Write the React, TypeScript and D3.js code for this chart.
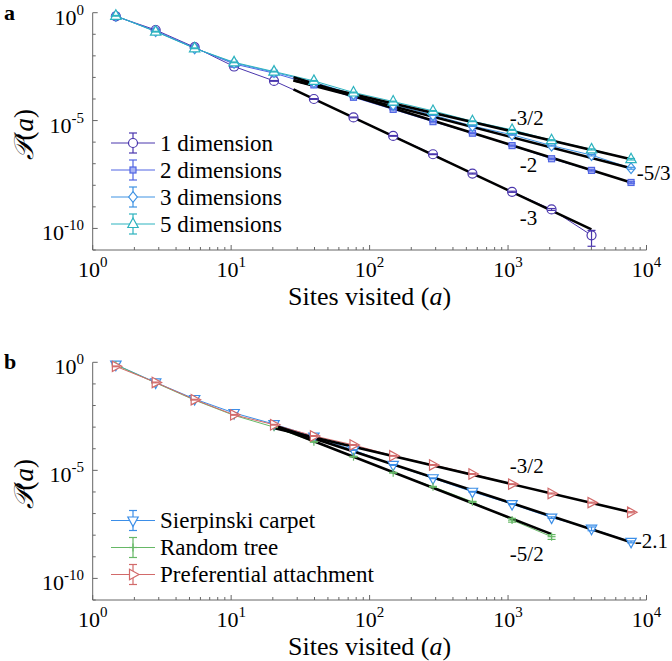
import React from "react";
import * as d3 from "d3";

// ---------- data ----------
const sites = [1.47, 2.85, 5.45, 10.5, 20.4, 39.6, 76.5, 148, 287, 553, 1069, 2062, 4008, 7734];

const dim1 = [0.68, 0.158, 0.0251, 3.2e-3, 6.9e-4, 1.0e-4, 1.4e-5, 1.95e-6, 2.75e-7, 3.5e-8, 5.0e-9, 7.6e-10, 4.8e-11];
const dim2 = [0.69, 0.141, 0.0234, 4.2e-3, 1.58e-3, 4.5e-4, 1.2e-4, 3.3e-5, 8.9e-6, 2.6e-6, 6.9e-7, 1.7e-7, 4.9e-8, 1.35e-8];
const dim3 = [0.71, 0.138, 0.0224, 4.7e-3, 1.74e-3, 6.0e-4, 1.66e-4, 5.4e-5, 1.8e-5, 5.6e-6, 2.2e-6, 6.9e-7, 2.5e-7, 6.2e-8];
const dim5 = [0.72, 0.132, 0.0224, 5.0e-3, 1.86e-3, 6.9e-4, 2.0e-4, 7.6e-5, 2.8e-5, 9.3e-6, 3.7e-6, 1.23e-6, 4.6e-7, 1.62e-7];
const dim1Err = [0.04, 0.04, 0.04, 0.04, 0.04, 0.04, 0.04, 0.04, 0.04, 0.05, 0.06, 0.1, 0.69];
const dim2Err = [0.04, 0.04, 0.04, 0.04, 0.04, 0.04, 0.04, 0.04, 0.04, 0.04, 0.05, 0.05, 0.06, 0.08];
const dim3Err = [0.04, 0.04, 0.04, 0.04, 0.04, 0.04, 0.04, 0.04, 0.04, 0.04, 0.05, 0.05, 0.08, 0.1];
const dim5Err = [0.04, 0.04, 0.04, 0.04, 0.04, 0.04, 0.04, 0.04, 0.04, 0.04, 0.05, 0.05, 0.06, 0.08];

const sierpinski = [0.78, 0.117, 0.020, 4.5e-3, 1.38e-3, 3.6e-4, 8.7e-5, 1.78e-5, 4.3e-6, 1.02e-6, 2.75e-7, 6.5e-8, 2.0e-8, 4.9e-9];
const randomTree = [0.76, 0.112, 0.0178, 3.5e-3, 1.0e-3, 2.1e-4, 4.3e-5, 7.8e-6, 1.74e-6, 3.5e-7, 5.0e-8, 8.5e-9];
const prefAttach = [0.65, 0.117, 0.0186, 3.7e-3, 1.29e-3, 3.9e-4, 1.5e-4, 4.7e-5, 1.78e-5, 6.8e-6, 2.3e-6, 8.5e-7, 3.2e-7, 1.15e-7];
const sierpinskiErr = [0.04, 0.04, 0.04, 0.04, 0.04, 0.04, 0.04, 0.04, 0.04, 0.04, 0.05, 0.08, 0.2, 0.1];
const randomTreeErr = [0.04, 0.04, 0.04, 0.04, 0.04, 0.04, 0.04, 0.04, 0.04, 0.05, 0.2, 0.25];
const prefAttachErr = [0.04, 0.04, 0.04, 0.04, 0.04, 0.04, 0.04, 0.04, 0.04, 0.04, 0.04, 0.05, 0.05, 0.06];

const namesA = ["1 dimension", "2 dimensions", "3 dimensions", "5 dimensions"];
const namesB = ["Sierpinski carpet", "Random tree", "Preferential attachment"];

// power-law fit segments (data units)
const fitLabelsA = ["-3", "-2", "-5/3", "-3/2"];
const fitX0A = [28.2, 28.2, 28.2, 28.2];
const fitY0A = [2.8e-4, 1.02e-3, 7.2e-4, 7.4e-4];
const fitX1A = [4000, 7734, 7734, 7734];
const fitY1A = [9.1e-11, 1.35e-8, 6.2e-8, 1.62e-7];
const labelXA = [1217, 1217, 8510, 1030];
const labelYA = [3.2e-10, 8.9e-8, 3.8e-8, 1.3e-5];

const fitLabelsB = ["-5/2", "-2.1", "-3/2"];
const fitX0B = [20.7, 20.7, 20.7];
const fitY0B = [1.12e-3, 1.17e-3, 8.9e-4];
const fitX1B = [2062, 7734, 7734];
const fitY1B = [1.12e-8, 4.7e-9, 1.15e-7];
const labelXB = [1030, 8240, 1030];
const labelYB = [1.3e-9, 5.4e-9, 1.6e-5];

const xTickExps = [0, 1, 2, 3, 4];
const yTickExps = [0, -5, -10];

// ---------- styling ----------
const SERIF = "Liberation Serif";
const colorsA = ["#4a36ad", "#5165e3", "#3f93e3", "#2db3bf"];
const shapesA = ["circle", "square", "diamond", "triUp"];
const colorsB = ["#3b8ee8", "#66b866", "#d26a6a"];
const shapesB = ["triDown", "plus", "triRight"];

const X0 = 92.7;
const X1 = 646.5;

function Marker({ shape, x, y, color }: { shape: string; x: number; y: number; color: string }) {
  const sw = 1.2;
  switch (shape) {
    case "circle":
      return <circle cx={x} cy={y} r={4.5} fill="#fff" stroke={color} strokeWidth={sw} />;
    case "square":
      return <rect x={x - 3} y={y - 3} width={6} height={6} fill="#a9b3f4" stroke={color} strokeWidth={sw} />;
    case "diamond":
      return <polygon points={`${x},${y - 5.4} ${x + 4.3},${y} ${x},${y + 5.4} ${x - 4.3},${y}`} fill="#fff" stroke={color} strokeWidth={sw} />;
    case "triUp":
      return <polygon points={`${x},${y - 6} ${x + 5.2},${y + 3.5} ${x - 5.2},${y + 3.5}`} fill="#fff" stroke={color} strokeWidth={sw} />;
    case "triDown":
      return <polygon points={`${x},${y + 6} ${x + 5.2},${y - 3.5} ${x - 5.2},${y - 3.5}`} fill="#fff" stroke={color} strokeWidth={sw} />;
    case "triRight":
      return <polygon points={`${x + 6},${y} ${x - 3.5},${y - 5.2} ${x - 3.5},${y + 5.2}`} fill="#fff" stroke={color} strokeWidth={sw} />;
    case "plus":
      return (
        <g stroke={color} strokeWidth={1.2}>
          <line x1={x - 4} x2={x + 4} y1={y} y2={y} />
          <line x1={x} x2={x} y1={y - 4} y2={y + 4} />
        </g>
      );
  }
  return null;
}

type PanelProps = {
  letter: string;
  yTop: number;
  yBottom: number;
  values: number[][];
  errs: number[][];
  names: string[];
  colors: string[];
  shapes: string[];
  fitX0: number[];
  fitY0: number[];
  fitX1: number[];
  fitY1: number[];
  fitLabels: string[];
  labelX: number[];
  labelY: number[];
  legendY: number;
};

function Panel(p: PanelProps) {
  const x = d3.scaleLog().domain([1, 1e4]).range([X0, X1]);
  const y = d3.scaleLog().domain([1e-11, 1]).range([p.yBottom, p.yTop]);
  const line = d3
    .line<[number, number]>()
    .x((d) => x(d[0]))
    .y((d) => y(d[1]));

  const xMinor: number[] = [];
  for (let e = 0; e < 4; e++) for (let k = 2; k <= 9; k++) xMinor.push(k * Math.pow(10, e));
  const yAll: number[] = d3.range(-11, 1).map((e) => Math.pow(10, e));

  const legendStep = 27;
  const axisColor = "#666";
  const serif = { fontFamily: SERIF };

  return (
    <g>
      <text x={4} y={p.yTop + 7} style={serif} fontWeight="bold" fontSize={22}>
        {p.letter}
      </text>

      {/* axes */}
      <g stroke={axisColor} strokeWidth={1} fill="none">
        <line x1={X0} x2={X0} y1={p.yTop} y2={p.yBottom} />
        <line x1={X0} x2={X1} y1={p.yBottom} y2={p.yBottom} />
        {xMinor.map((v, i) => (
          <line key={"xm" + i} x1={x(v)} x2={x(v)} y1={p.yBottom} y2={p.yBottom - 3} />
        ))}
        {xTickExps.map((e) => (
          <line key={"xM" + e} x1={x(Math.pow(10, e))} x2={x(Math.pow(10, e))} y1={p.yBottom} y2={p.yBottom - 5} />
        ))}
        {yAll.map((v, i) => (
          <line key={"ym" + i} x1={X0} x2={X0 + (yTickExps.includes(Math.round(Math.log10(v))) ? 5 : 3)} y1={y(v)} y2={y(v)} />
        ))}
      </g>

      {/* tick labels */}
      {xTickExps.map((e) => (
        <text key={"xl" + e} x={x(Math.pow(10, e))} y={p.yBottom + 27} textAnchor="middle" style={serif} fontSize={22}>
          10
          <tspan dy={-10} fontSize={15}>
            {e}
          </tspan>
        </text>
      ))}
      {yTickExps.map((e) => (
        <text key={"yl" + e} x={84} y={y(Math.pow(10, e)) + 12} textAnchor="end" style={serif} fontSize={22}>
          10
          <tspan dy={-10} fontSize={15}>
            {e}
          </tspan>
        </text>
      ))}

      {/* axis labels */}
      <text x={(X0 + X1) / 2} y={p.yBottom + 55} textAnchor="middle" style={serif} fontSize={26}>
        Sites visited (<tspan fontStyle="italic">a</tspan>)
      </text>
      <text
        transform={`translate(33,${(p.yTop + p.yBottom) / 2 + 3}) rotate(-90)`}
        textAnchor="middle"
        style={serif}
        fontSize={27}
      >
        <tspan style={{ fontFamily: "DejaVu Serif" }} fontStyle="italic">
          𝒫
        </tspan>
        (<tspan fontStyle="italic">a</tspan>)
      </text>

      {/* data lines */}
      {p.values.map((vals, si) => (
        <path
          key={"dl" + si}
          d={line(vals.map((v, i) => [sites[i], v] as [number, number])) || ""}
          fill="none"
          stroke={p.colors[si]}
          strokeWidth={1}
        />
      ))}

      {/* fit lines */}
      {p.fitX0.map((_, i) => (
        <path
          key={"fit" + i}
          d={line([
            [p.fitX0[i], p.fitY0[i]],
            [p.fitX1[i], p.fitY1[i]],
          ]) || ""}
          stroke="#000"
          strokeWidth={2.6}
          fill="none"
        />
      ))}

      {/* markers + error bars */}
      {p.values.map((vals, si) => (
        <g key={"mk" + si}>
          {vals.map((v, i) => {
            const cx = x(sites[i]);
            const r = p.errs[si][i];
            const yl = y(v * (1 - r));
            const yh = y(v * (1 + r));
            return (
              <g key={i}>
                <Marker shape={p.shapes[si]} x={cx} y={y(v)} color={p.colors[si]} />
                <g stroke={p.colors[si]} strokeWidth={1.2}>
                  <line x1={cx} x2={cx} y1={yl} y2={yh} />
                  <line x1={cx - 4} x2={cx + 4} y1={yl} y2={yl} />
                  <line x1={cx - 4} x2={cx + 4} y1={yh} y2={yh} />
                </g>
              </g>
            );
          })}
        </g>
      ))}

      {/* fit labels */}
      {p.fitLabels.map((t, i) => (
        <text key={"fl" + i} x={x(p.labelX[i])} y={y(p.labelY[i]) + 7} style={serif} fontSize={21}>
          {t}
        </text>
      ))}

      {/* legend */}
      {p.names.map((n, i) => {
        const ly = p.legendY + i * legendStep;
        const c = p.colors[i];
        return (
          <g key={"lg" + i}>
            <line x1={111} x2={155} y1={ly} y2={ly} stroke={c} strokeWidth={1} />
            <g stroke={c} strokeWidth={1.2}>
              <line x1={133} x2={133} y1={ly - 10} y2={ly + 10} />
              <line x1={129} x2={137} y1={ly - 10} y2={ly - 10} />
              <line x1={129} x2={137} y1={ly + 10} y2={ly + 10} />
            </g>
            <Marker shape={p.shapes[i]} x={133} y={ly} color={c} />
            <text x={160} y={ly + 7.5} style={serif} fontSize={23}>
              {n}
            </text>
          </g>
        );
      })}
    </g>
  );
}

export default function App() {
  return (
    <svg width={672} height={661} style={{ display: "block", position: "absolute", left: 0, top: 0, background: "#fff", fontFamily: SERIF }}>
      <Panel
        letter="a"
        yTop={12.7}
        yBottom={250}
        values={[dim1, dim2, dim3, dim5]}
        errs={[dim1Err, dim2Err, dim3Err, dim5Err]}
        names={namesA}
        colors={colorsA}
        shapes={shapesA}
        fitX0={fitX0A}
        fitY0={fitY0A}
        fitX1={fitX1A}
        fitY1={fitY1A}
        fitLabels={fitLabelsA}
        labelX={labelXA}
        labelY={labelYA}
        legendY={143}
      />
      <Panel
        letter="b"
        yTop={362.3}
        yBottom={600}
        values={[sierpinski, randomTree, prefAttach]}
        errs={[sierpinskiErr, randomTreeErr, prefAttachErr]}
        names={namesB}
        colors={colorsB}
        shapes={shapesB}
        fitX0={fitX0B}
        fitY0={fitY0B}
        fitX1={fitX1B}
        fitY1={fitY1B}
        fitLabels={fitLabelsB}
        labelX={labelXB}
        labelY={labelYB}
        legendY={520.5}
      />
    </svg>
  );
}
